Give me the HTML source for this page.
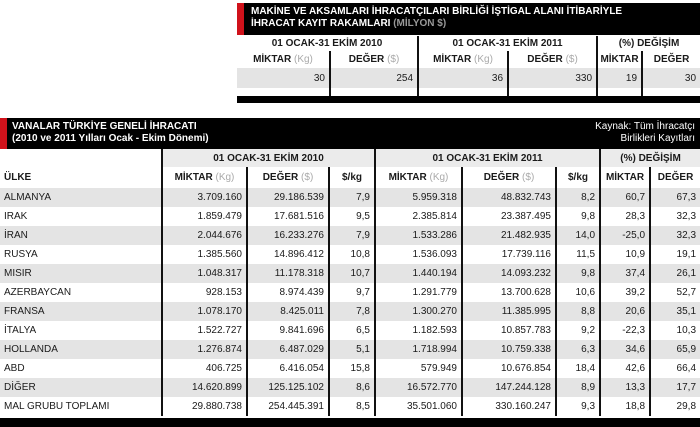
<!DOCTYPE html>
<html><head><meta charset="utf-8"><style>
*{margin:0;padding:0;box-sizing:border-box}
body{width:700px;height:427px;background:#fff;position:relative;overflow:hidden;font-family:"Liberation Sans",sans-serif;color:#1a1a1a}
.abs{position:absolute}
table{border-collapse:collapse;table-layout:fixed;position:absolute}
td{font-size:10px;white-space:nowrap;overflow:hidden;padding:0 4px;text-align:right}
.h{font-weight:bold;text-align:center;font-size:10px;padding:0 1px}
.g{color:#aaa;font-weight:normal}
.bl{border-left:2px solid #111}
.z{background:#e4e4e4}
.lbl{text-align:left}
</style></head><body>
<div class="abs" style="left:237px;top:3px;width:463px;height:32px;background:#000"></div>
<div class="abs" style="left:237px;top:3px;width:7px;height:32px;background:#d0121b"></div>
<div class="abs" style="left:251px;top:6px;color:#fff;font-weight:bold;font-size:10px;line-height:12px">MAKİNE VE AKSAMLARI İHRACATÇILARI BİRLİĞİ İŞTİGAL ALANI İTİBARİYLE<br>İHRACAT KAYIT RAKAMLARI <span style="color:#999">(MİLYON $)</span></div>
<table style="left:237px;top:36px;width:463px">
<colgroup><col style="width:93px"><col style="width:88px"><col style="width:90px"><col style="width:89px"><col style="width:45px"><col style="width:58px"></colgroup>
<tr style="height:15px"><td class="h" colspan="2">01 OCAK-31 EKİM 2010</td><td class="h bl" colspan="2">01 OCAK-31 EKİM 2011</td><td class="h bl" colspan="2">(%) DEĞİŞİM</td></tr>
<tr style="height:17px"><td class="h">MİKTAR <span class="g">(Kg)</span></td><td class="h bl">DEĞER <span class="g">($)</span></td><td class="h bl">MİKTAR <span class="g">(Kg)</span></td><td class="h bl">DEĞER <span class="g">($)</span></td><td class="h bl">MİKTAR</td><td class="h bl">DEĞER</td></tr>
<tr style="height:20px" class="z"><td>30</td><td class="bl">254</td><td class="bl">36</td><td class="bl">330</td><td class="bl">19</td><td class="bl">30</td></tr>
<tr style="height:8px"><td></td><td class="bl"></td><td class="bl"></td><td class="bl"></td><td class="bl"></td><td class="bl"></td></tr>
</table>
<div class="abs" style="left:237px;top:96px;width:463px;height:7px;background:#000"></div>

<div class="abs" style="left:0;top:118px;width:700px;height:31px;background:#000"></div>
<div class="abs" style="left:0;top:118px;width:7px;height:31px;background:#d0121b"></div>
<div class="abs" style="left:12px;top:121px;color:#fff;font-weight:bold;font-size:10px;line-height:12px">VANALAR TÜRKİYE GENELİ İHRACATI<br>(2010 ve 2011 Yılları Ocak - Ekim Dönemi)</div>
<div class="abs" style="right:5px;top:121px;color:#fff;font-size:10px;line-height:12px;text-align:right">Kaynak: Tüm İhracatçı<br>Birlikleri Kayıtları</div>
<table style="left:0;top:149px;width:700px">
<colgroup><col style="width:162px"><col style="width:85px"><col style="width:82px"><col style="width:46px"><col style="width:87px"><col style="width:94px"><col style="width:44px"><col style="width:50px"><col style="width:50px"></colgroup>
<tr style="height:18px"><td></td><td class="h bl" colspan="3" style="background:#ebebeb">01 OCAK-31 EKİM 2010</td><td class="h bl" colspan="3" style="background:#ebebeb">01 OCAK-31 EKİM 2011</td><td class="h bl" colspan="2" style="background:#ebebeb">(%) DEĞİŞİM</td></tr>
<tr style="height:21px"><td class="h lbl" style="padding-left:4px">ÜLKE</td><td class="h bl">MİKTAR <span class="g">(Kg)</span></td><td class="h bl">DEĞER <span class="g">($)</span></td><td class="h bl">$/kg</td><td class="h bl">MİKTAR <span class="g">(Kg)</span></td><td class="h bl">DEĞER <span class="g">($)</span></td><td class="h bl">$/kg</td><td class="h bl">MİKTAR</td><td class="h bl">DEĞER</td></tr>
<tr style="height:19px" class="z"><td class="lbl">ALMANYA</td><td class="bl">3.709.160</td><td class="bl">29.186.539</td><td class="bl">7,9</td><td class="bl">5.959.318</td><td class="bl">48.832.743</td><td class="bl">8,2</td><td class="bl">60,7</td><td class="bl">67,3</td></tr>
<tr style="height:19px"><td class="lbl">IRAK</td><td class="bl">1.859.479</td><td class="bl">17.681.516</td><td class="bl">9,5</td><td class="bl">2.385.814</td><td class="bl">23.387.495</td><td class="bl">9,8</td><td class="bl">28,3</td><td class="bl">32,3</td></tr>
<tr style="height:19px" class="z"><td class="lbl">İRAN</td><td class="bl">2.044.676</td><td class="bl">16.233.276</td><td class="bl">7,9</td><td class="bl">1.533.286</td><td class="bl">21.482.935</td><td class="bl">14,0</td><td class="bl">-25,0</td><td class="bl">32,3</td></tr>
<tr style="height:19px"><td class="lbl">RUSYA</td><td class="bl">1.385.560</td><td class="bl">14.896.412</td><td class="bl">10,8</td><td class="bl">1.536.093</td><td class="bl">17.739.116</td><td class="bl">11,5</td><td class="bl">10,9</td><td class="bl">19,1</td></tr>
<tr style="height:19px" class="z"><td class="lbl">MISIR</td><td class="bl">1.048.317</td><td class="bl">11.178.318</td><td class="bl">10,7</td><td class="bl">1.440.194</td><td class="bl">14.093.232</td><td class="bl">9,8</td><td class="bl">37,4</td><td class="bl">26,1</td></tr>
<tr style="height:19px"><td class="lbl">AZERBAYCAN</td><td class="bl">928.153</td><td class="bl">8.974.439</td><td class="bl">9,7</td><td class="bl">1.291.779</td><td class="bl">13.700.628</td><td class="bl">10,6</td><td class="bl">39,2</td><td class="bl">52,7</td></tr>
<tr style="height:19px" class="z"><td class="lbl">FRANSA</td><td class="bl">1.078.170</td><td class="bl">8.425.011</td><td class="bl">7,8</td><td class="bl">1.300.270</td><td class="bl">11.385.995</td><td class="bl">8,8</td><td class="bl">20,6</td><td class="bl">35,1</td></tr>
<tr style="height:19px"><td class="lbl">İTALYA</td><td class="bl">1.522.727</td><td class="bl">9.841.696</td><td class="bl">6,5</td><td class="bl">1.182.593</td><td class="bl">10.857.783</td><td class="bl">9,2</td><td class="bl">-22,3</td><td class="bl">10,3</td></tr>
<tr style="height:19px" class="z"><td class="lbl">HOLLANDA</td><td class="bl">1.276.874</td><td class="bl">6.487.029</td><td class="bl">5,1</td><td class="bl">1.718.994</td><td class="bl">10.759.338</td><td class="bl">6,3</td><td class="bl">34,6</td><td class="bl">65,9</td></tr>
<tr style="height:19px"><td class="lbl">ABD</td><td class="bl">406.725</td><td class="bl">6.416.054</td><td class="bl">15,8</td><td class="bl">579.949</td><td class="bl">10.676.854</td><td class="bl">18,4</td><td class="bl">42,6</td><td class="bl">66,4</td></tr>
<tr style="height:19px" class="z"><td class="lbl">DİĞER</td><td class="bl">14.620.899</td><td class="bl">125.125.102</td><td class="bl">8,6</td><td class="bl">16.572.770</td><td class="bl">147.244.128</td><td class="bl">8,9</td><td class="bl">13,3</td><td class="bl">17,7</td></tr>
<tr style="height:19px"><td class="lbl">MAL GRUBU TOPLAMI</td><td class="bl">29.880.738</td><td class="bl">254.445.391</td><td class="bl">8,5</td><td class="bl">35.501.060</td><td class="bl">330.160.247</td><td class="bl">9,3</td><td class="bl">18,8</td><td class="bl">29,8</td></tr>
</table>
<div class="abs" style="left:0;top:418px;width:700px;height:9px;background:#000"></div>
</body></html>
